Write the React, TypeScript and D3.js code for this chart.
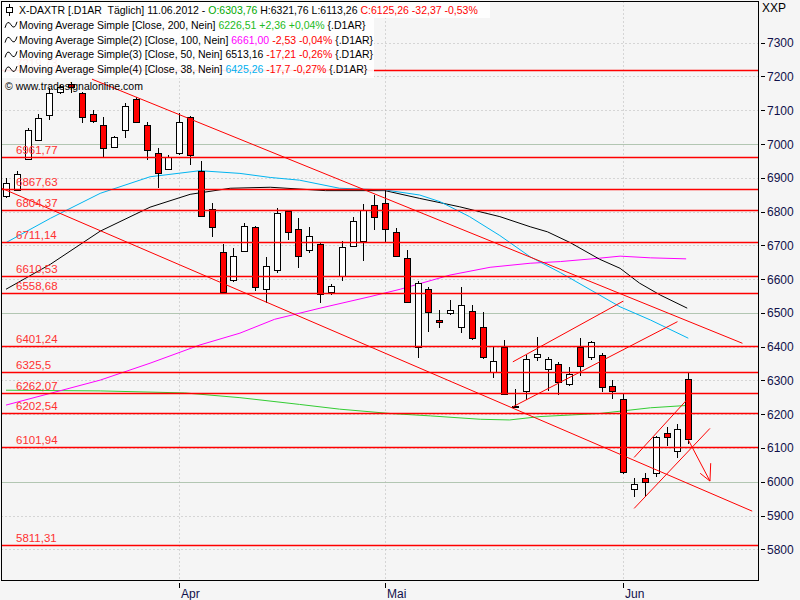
import React from "react";
import * as d3 from "d3";

// ---- data ----
const dates = [
  "09.03","12.03","13.03","14.03","15.03","16.03","19.03","20.03","21.03","22.03","23.03","26.03","27.03","28.03","29.03","30.03",
  "02.04","03.04","04.04","05.04","10.04","11.04","12.04","13.04","16.04","17.04","18.04","19.04","20.04","23.04","24.04","25.04","26.04","27.04","30.04",
  "02.05","03.05","04.05","07.05","08.05","09.05","10.05","11.05","14.05","15.05","16.05","17.05","18.05","21.05","22.05","23.05","24.05","25.05","28.05","29.05","30.05","31.05",
  "01.06","04.06","05.06","06.06","07.06","08.06","11.06",
];
const opens = [6846,6864,6955,7012,7086,7155,7178,7150,7089,7055,6990,7041,7133,7056,6972,6925,
  6972,7079,6921,6807,6679,6596,6683,6755,6571,6627,6803,6748,6685,6703,6561,6609,6699,6712,6819,
  6824,6740,6662,6398,6570,6478,6499,6457,6506,6457,6324,6398,6221,6270,6370,6333,6348,6288,6398,6368,6374,6284,
  6245,5979,6010,6027,6145,6092,6303.76];
const highs = [6899,6920,7047,7088,7165,7175,7184,7153,7101,7081,7024,7121,7138,7066,6987,6967,
  7093,7082,6950,6824,6704,6691,6765,6757,6665,6810,6806,6780,6753,6711,6586,6713,6784,6822,6849,
  6864,6750,6686,6595,6578,6508,6538,6578,6523,6503,6398,6420,6274,6375,6428,6370,6355,6341,6425,6417,6382,6301,
  6259,6010,6027,6136,6163,6171,6321.76];
const lows = [6839,6861,6953,7010,7071,7148,7150,7061,7061,6961,6987,7017,7063,6953,6869,6923,
  6967,6938,6786,6726,6559,6592,6681,6566,6528,6617,6716,6632,6678,6528,6553,6595,6694,6654,6745,
  6711,6664,6529,6365,6444,6456,6494,6441,6420,6363,6308,6257,6219,6242,6358,6270,6257,6284,6313,6360,6267,6245,
  6023,5954,5956,6015,6107,6071,6113.26];
const closes = [6884,6910,7042,7076,7150,7168,7169,7079,7068,6989,7022,7113,7065,6982,6915,6962,
  7066,6967,6788,6753,6561,6668,6758,6576,6640,6795,6739,6668,6727,6555,6579,6694,6771,6804,6783,
  6748,6668,6531,6588,6503,6474,6508,6523,6425,6370,6357,6259,6225,6363,6377,6362,6294,6319,6343,6415,6280,6269,
  6028,5993,5998,6133,6133,6156,6125.26];

// moving averages (candle index, value)
const ma200Idx = [0, 8.7, 16.5, 21.6, 27.1, 30.8, 35.5, 39.2, 43.8, 46.5, 49.3, 54.8, 59.5, 62.9];
const ma200Val = [6271, 6269, 6263, 6249, 6229, 6215, 6202, 6195, 6185, 6183, 6193, 6202, 6219, 6226];
const ma100Idx = [0, 8.7, 13.3, 17.9, 21.6, 24.8, 29, 33.6, 36.4, 41, 44.7, 48.4, 51.2, 54.8, 56.7, 59.5, 62.8];
const ma100Val = [6227, 6301, 6351, 6405, 6440, 6481, 6514, 6548, 6570, 6612, 6635, 6647, 6652, 6662, 6668, 6663, 6660];
const ma50Idx = [0, 4.1, 8.7, 13.3, 17, 20.7, 24.4, 29.5, 35, 38.2, 41.9, 45.6, 48.4, 50, 52.1, 54.8, 56.7, 58.5, 60.4, 62.9];
const ma50Val = [6570, 6644, 6742, 6813, 6851, 6869, 6872, 6862, 6862, 6839, 6814, 6785, 6755, 6740, 6708, 6659, 6632, 6588, 6553, 6514];
const ma38Idx = [0, 4.1, 8.7, 13.3, 17.9, 21.6, 24.4, 27.1, 30.8, 35, 38.2, 40.1, 42.8, 45.6, 48.4, 51.2, 54.8, 56.7, 59.5, 63];
const ma38Val = [6708, 6780, 6854, 6903, 6921, 6913, 6901, 6893, 6869, 6864, 6849, 6829, 6785, 6729, 6666, 6619, 6553, 6518, 6479, 6425];

// horizontal levels
const levels = [7219.73, 6961.77, 6867.63, 6804.37, 6711.14, 6610.53, 6558.68, 6401.24, 6325.5, 6262.07, 6202.54, 6101.94, 5811.31];
const levelLabels = ["7219,73", "6961,77", "6867,63", "6804,37", "6711,14", "6610,53", "6558,68", "6401,24", "6325,5", "6262,07", "6202,54", "6101,94", "5811,31"];

// trend lines: [i1, v1, i2, v2]
const trendLines = [
  [7.94, 7192, 68, 6410],
  [-0.4, 6869, 68.9, 5913],
  [46.8, 6355, 57.0, 6535],
  [46.8, 6222, 62.0, 6474],
  [58.0, 5921, 65.0, 6158],
  [58.0, 6072, 62.85, 6242],
  [63.0, 6124, 65.0, 6002],
  [64.1, 6025, 65.0, 6002],
  [65.07, 6055, 65.0, 6002],
];

const yTicks = [7300, 7200, 7100, 7000, 6900, 6800, 6700, 6600, 6500, 6400, 6300, 6200, 6100, 6000, 5900, 5800];
const majorTicks = [7000, 6500, 6000];
const monthLabels = ["Apr", "Mai", "Jun"];
const monthStart = ["02.04", "02.05", "01.06"];

const legendRows: [string, string][][] = [
  [["X-DAXTR [.D1AR  Täglich] 11.06.2012 - ", "#000"], ["O:6303,76", "#00a800"], [" H:6321,76 L:6113,26 ", "#000"], ["C:6125,26 -32,37 -0,53%", "#ff0000"]],
  [["Moving Average Simple [Close, 200, Nein] ", "#000"], ["6226,51 +2,36 +0,04%", "#22bb22"], [" {.D1AR}", "#000"]],
  [["Moving Average Simple(2) [Close, 100, Nein] ", "#000"], ["6661,00", "#ff00ff"], [" -2,53 -0,04%", "#ff0000"], [" {.D1AR}", "#000"]],
  [["Moving Average Simple(3) [Close, 50, Nein] 6513,16", "#000"], [" -17,21 -0,26%", "#ff0000"], [" {.D1AR}", "#000"]],
  [["Moving Average Simple(4) [Close, 38, Nein] ", "#000"], ["6425,26", "#00b0f0"], [" -17,7 -0,27%", "#ff0000"], [" {.D1AR}", "#000"]],
];

export default function App() {
  const L = 1.5, R = 758.5, T = 1.5, B = 580.5;
  const x = d3.scaleLinear().domain([0, 63]).range([6, 688.3]);
  const y = d3.scaleLinear().domain([5800, 7300]).range([549.3, 42.7]);
  const px = (v: number) => Math.round(v) + 0.5;

  const maLine = (idx: number[], val: number[]) =>
    d3.line<number>().x((_, k) => x(idx[k])).y((v) => y(v))(val) || "";

  const mas = [
    { idx: ma200Idx, val: ma200Val, color: "#33cc33" },
    { idx: ma100Idx, val: ma100Val, color: "#ff00ff" },
    { idx: ma50Idx, val: ma50Val, color: "#000000" },
    { idx: ma38Idx, val: ma38Val, color: "#00b4f0" },
  ];

  const font = "'Liberation Sans', Arial, sans-serif";

  return (
    <div style={{ position: "absolute", left: 0, top: 0 }}>
      <svg width={800} height={600} style={{ display: "block" }} fontFamily={font}>
        <defs>
          <clipPath id="plot">
            <rect x={L} y={T} width={R - L} height={B - T} />
          </clipPath>
        </defs>
        <rect x={0} y={0} width={800} height={600} fill="#f5f5f5" />

        {/* grid */}
        {yTicks.map((t) => (
          <line key={"g" + t} x1={L} x2={R} y1={px(y(t))} y2={px(y(t))}
            stroke={majorTicks.includes(t) ? "#b2c6b2" : "#b4b4b4"}
            strokeWidth={1}
            strokeDasharray={majorTicks.includes(t) ? undefined : "1,3"} />
        ))}
        {monthStart.map((d) => {
          const xi = px(x(dates.indexOf(d)));
          return <line key={"v" + d} x1={xi} x2={xi} y1={T} y2={B} stroke="#b4b4b4" strokeDasharray="1,3" />;
        })}

        <g clipPath="url(#plot)">
          {/* moving averages */}
          {mas.map((m, k) => (
            <path key={"ma" + k} d={maLine(m.idx, m.val)} fill="none" stroke={m.color} strokeWidth={1} />
          ))}

          {/* candles */}
          {dates.map((d, i) => {
            const cx = Math.round(x(i));
            const o = opens[i], c = closes[i];
            const up = c >= o;
            const yt = Math.round(y(Math.max(o, c)));
            const yb = Math.round(y(Math.min(o, c)));
            return (
              <g key={d}>
                <line x1={cx + 0.5} x2={cx + 0.5} y1={Math.round(y(highs[i]))} y2={Math.round(y(lows[i]))} stroke="#000" strokeWidth={1} />
                <rect x={cx - 2.5} y={yt + 0.5} width={6} height={Math.max(1, yb - yt)}
                  fill={up ? "#ffffff" : "#ff0000"} stroke="#000" strokeWidth={1} />
              </g>
            );
          })}

          {/* trend lines */}
          {trendLines.map((t, k) => (
            <line key={"t" + k} x1={x(t[0])} y1={y(t[1])} x2={x(t[2])} y2={y(t[3])} stroke="#ff0000" strokeWidth={1} />
          ))}

          {/* levels */}
          {levels.map((v, k) => (
            <g key={"l" + k}>
              <line x1={L} x2={R} y1={px(y(v))} y2={px(y(v))} stroke="#ff0000" strokeWidth={1.3} />
              <text x={16} y={y(v) - 3} fontSize={11.5} fill="#ff3030">{levelLabels[k]}</text>
            </g>
          ))}
        </g>

        {/* frame */}
        <rect x={L} y={T} width={R - L} height={B - T} fill="none" stroke="#000" strokeWidth={1} />

        {/* right axis */}
        <text x={762} y={12} fontSize={12} fill="#000">XXP</text>
        {yTicks.map((t) => (
          <g key={"a" + t}>
            <line x1={761} x2={765} y1={px(y(t))} y2={px(y(t))} stroke="#000" />
            <text x={767} y={y(t) + 4.5} fontSize={12} fill="#10104a">{t}</text>
          </g>
        ))}

        {/* month axis */}
        {monthStart.map((d, k) => {
          const xi = px(x(dates.indexOf(d)));
          return (
            <g key={"m" + d}>
              <line x1={xi} x2={xi} y1={583} y2={588} stroke="#000" />
              <text x={xi + 1.5} y={598} fontSize={12} fill="#10104a">{monthLabels[k]}</text>
            </g>
          );
        })}

        {/* legend */}
        <rect x={2} y={2} width={372} height={76} fill="#ffffff" opacity={0.9} />
        <rect x={374} y={2} width={116} height={16} fill="#ffffff" opacity={0.9} />
        {/* candle icon */}
        <line x1={9.5} x2={9.5} y1={4} y2={16} stroke="#000" />
        <rect x={6.5} y={7.5} width={6} height={5} fill="#fff" stroke="#000" />
        {[1, 2, 3, 4].map((r) => {
          const cy = 10 + r * 14.8;
          return (
            <path key={"ic" + r}
              d={`M5 ${cy + 3} Q7.5 ${cy - 6} 11 ${cy} Q14.5 ${cy + 6} 17 ${cy - 3}`}
              fill="none" stroke="#000" strokeWidth={1} />
          );
        })}
        {legendRows.map((row, r) => (
          <text key={"lr" + r} x={19} y={14 + r * 14.8} fontSize={10.5} fill="#000" style={{ whiteSpace: "pre" }}>
            {row.map((seg, s) => (
              <tspan key={s} fill={seg[1]}>{seg[0]}</tspan>
            ))}
          </text>
        ))}
        <text x={5} y={90} fontSize={10.5} fill="#000">© www.tradesignalonline.com</text>
      </svg>
    </div>
  );
}
